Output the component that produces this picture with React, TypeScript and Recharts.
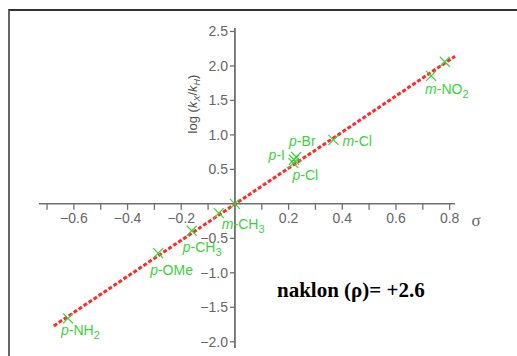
import { ComposedChart, Line, Scatter, XAxis, YAxis, ReferenceLine, ReferenceDot } from "recharts";

// Hammett plot: substituent constants vs log(kX/kH)
const substituents = ["p-NH2", "p-OMe", "p-CH3", "m-CH3", "H", "p-Cl", "p-I", "p-Br", "m-Cl", "m-NO2", "p-NO2"];
const sigmaValues = [-0.622, -0.286, -0.161, -0.06, 0, 0.218, 0.22, 0.228, 0.367, 0.731, 0.782];
const logRatios = [-1.66, -0.714, -0.39, -0.135, 0, 0.59, 0.64, 0.68, 0.928, 1.855, 2.06];

// fitted line end points
const fitSigma = [-0.675, 0.82];
const fitLog = [-1.77, 2.14];

const xTicks = [-0.7, -0.6, -0.5, -0.4, -0.3, -0.2, -0.1, 0.1, 0.2, 0.3, 0.4, 0.5, 0.6, 0.7, 0.8];
const xTickLabels = ["", "−0.6", "", "−0.4", "", "−0.2", "", "", "0.2", "", "0.4", "", "0.6", "", "0.8"];
const yTicks = [2.5, 2.0, 1.5, 1.0, 0.5, -0.5, -1.0, -1.5, -2.0];
const yTickLabels = ["2.5", "2.0", "1.5", "1.0", "0.5", "−0.5", "−1.0", "−1.5", "−2.0"];

const points = substituents.map((name, i) => ({ name, x: sigmaValues[i], y: logRatios[i] }));
const fitLine = fitSigma.map((x, i) => ({ x, y: fitLog[i] }));

// label placement relative to the marker: dx, dy, anchor
const labelOffsets: Record<string, [number, number, string]> = {
  "p-NH2": [-7, 12, "start"],
  "p-OMe": [-8, 17, "start"],
  "p-CH3": [-9, 16, "start"],
  "m-CH3": [3, 11, "start"],
  "p-Cl": [-1, 12, "start"],
  "p-I": [-9, -5, "end"],
  "p-Br": [-7, -16, "start"],
  "m-Cl": [9, 1, "start"],
  "m-NO2": [-6, 13, "start"],
};

const GREEN = "#3cd23c";
const AXIS = "#707070";
const FONT = "'Liberation Sans', Arial, sans-serif";

const SubLabel = ({ name, x, y, anchor }: any) => {
  const prefix = name[0];
  let body = name.slice(1);
  let sub = "";
  const m = body.match(/(\d+)$/);
  if (m) {
    sub = m[1];
    body = body.slice(0, -sub.length);
  }
  return (
    <text x={x} y={y} dy="0.35em" textAnchor={anchor} fill={GREEN} fontSize={14} fontFamily={FONT}>
      <tspan fontStyle="italic">{prefix}</tspan>
      <tspan>{body}</tspan>
      {sub && <tspan dy={4} fontSize={11}>{sub}</tspan>}
    </text>
  );
};

const CrossShape = (props: any) => {
  const { cx, cy, payload } = props;
  const off = labelOffsets[payload.name];
  return (
    <g>
      <path
        d={`M${cx - 5},${cy - 5}L${cx + 5},${cy + 5}M${cx + 5},${cy - 5}L${cx - 5},${cy + 5}`}
        stroke={GREEN}
        strokeWidth={1.2}
        fill="none"
      />
      {off && <SubLabel name={payload.name} x={cx + off[0]} y={cy + off[1]} anchor={off[2]} />}
    </g>
  );
};

export default function App() {
  return (
    <div style={{ position: "absolute", left: 0, top: 0, width: 517, height: 356, overflow: "hidden", background: "#fff" }}>
      <div
        style={{
          position: "absolute",
          left: 8,
          top: 9,
          width: 600,
          height: 400,
          borderTop: "2px solid #333",
          borderLeft: "2px solid #666",
        }}
      />
      <div style={{ position: "absolute", left: 0, top: 0 }}>
        <ComposedChart width={517} height={356} margin={{ top: 28, right: 62, bottom: 8, left: 39 }}>
          <XAxis type="number" dataKey="x" domain={[-0.73, 0.82]} hide />
          <YAxis type="number" dataKey="y" domain={[-2.09, 2.55]} hide />

          {/* axes crossing at origin */}
          <ReferenceLine segment={[{ x: -0.73, y: 0 }, { x: 0.82, y: 0 }]} stroke={AXIS} strokeWidth={1.5} />
          <ReferenceLine segment={[{ x: 0, y: -2.09 }, { x: 0, y: 2.55 }]} stroke={AXIS} strokeWidth={1.8} />

          {xTicks.map((t, i) => (
            <ReferenceDot
              key={`xt${i}`}
              x={t}
              y={0}
              shape={(p: any) => (
                <g>
                  <line x1={p.cx} y1={p.cy} x2={p.cx} y2={p.cy + 6} stroke={AXIS} strokeWidth={1.3} />
                  {xTickLabels[i] && (
                    <text x={p.cx} y={p.cy + 19} textAnchor="middle" fill="#666" fontSize={14} fontFamily={FONT}>
                      {xTickLabels[i]}
                    </text>
                  )}
                </g>
              )}
            />
          ))}
          {yTicks.map((t, i) => (
            <ReferenceDot
              key={`yt${i}`}
              x={0}
              y={t}
              shape={(p: any) => (
                <g>
                  <line x1={p.cx - 5} y1={p.cy} x2={p.cx} y2={p.cy} stroke={AXIS} strokeWidth={1.3} />
                  <text x={p.cx - 7} y={p.cy} dy="0.35em" textAnchor="end" fill="#666" fontSize={14} fontFamily={FONT}>
                    {yTickLabels[i]}
                  </text>
                </g>
              )}
            />
          ))}

          <Line
            data={fitLine}
            dataKey="y"
            type="linear"
            stroke="#ff2a2a"
            strokeWidth={3}
            strokeDasharray="4 2"
            dot={false}
            isAnimationActive={false}
          />
          <Scatter data={points} dataKey="y" shape={CrossShape} isAnimationActive={false} />
        </ComposedChart>
      </div>
      <svg width={517} height={356} style={{ position: "absolute", left: 0, top: 0, pointerEvents: "none" }}>
        <text x={476} y={220} dy="0.35em" textAnchor="middle" fill="#666" fontSize={17} fontFamily="'Liberation Serif', serif">
          σ
        </text>
        <text
          transform="translate(192,104) rotate(-90)"
          textAnchor="middle"
          dy="0.35em"
          fill="#555"
          fontSize={13}
          fontFamily={FONT}
        >
          <tspan>log (</tspan>
          <tspan fontStyle="italic">k</tspan>
          <tspan fontStyle="italic" fontSize={9} dy={3}>X</tspan>
          <tspan dy={-3}>/</tspan>
          <tspan fontStyle="italic">k</tspan>
          <tspan fontStyle="italic" fontSize={9} dy={3}>H</tspan>
          <tspan dy={-3}>)</tspan>
        </text>
        <text x={277} y={297} fill="#000" fontSize={21} fontWeight="bold" fontFamily="'Liberation Serif', 'Times New Roman', serif">
          naklon (ρ)= +2.6
        </text>
      </svg>
    </div>
  );
}
